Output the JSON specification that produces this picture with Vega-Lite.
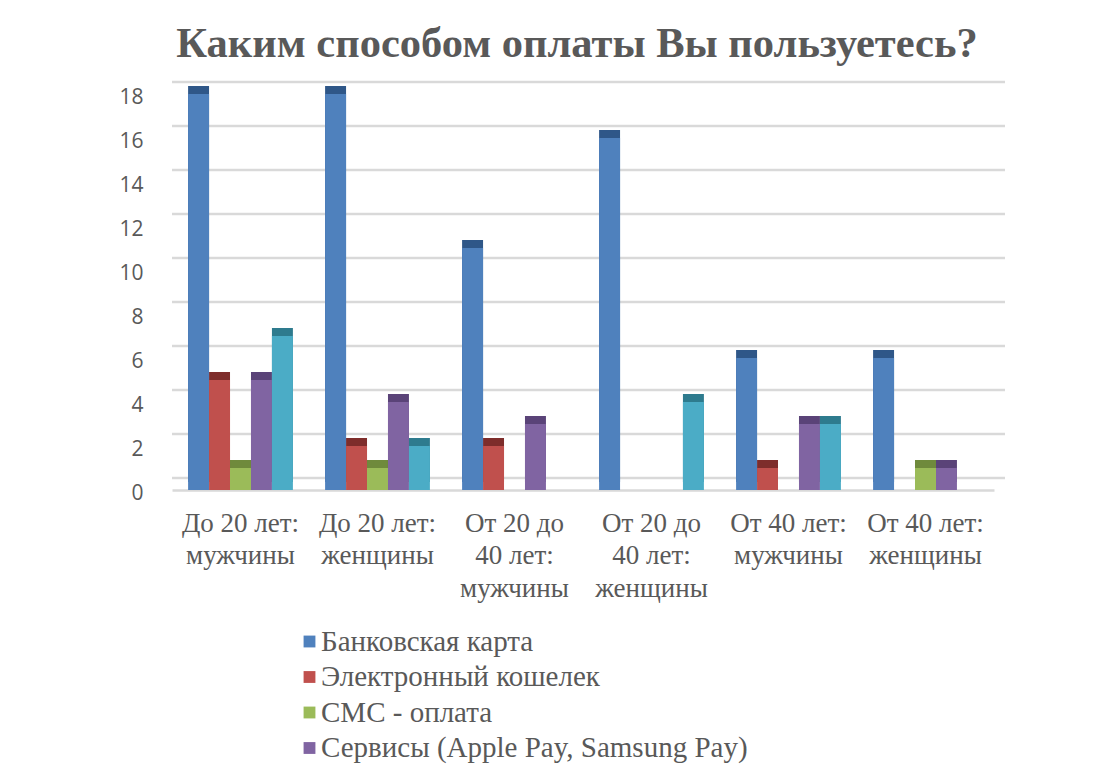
{
  "$schema": "https://vega.github.io/schema/vega-lite/v6.json",
  "width": 822,
  "height": 396,
  "autosize": {"type": "none"},
  "padding": {"left": 172, "top": 94, "right": 115, "bottom": 277},
  "background": "#ffffff",
  "title": {
    "text": "Каким способом оплаты Вы пользуетесь?",
    "font": "'Liberation Serif', 'Times New Roman', serif",
    "fontSize": 42.5,
    "fontWeight": "bold",
    "color": "#595959",
    "anchor": "middle",
    "frame": "group",
    "baseline": "alphabetic",
    "offset": -19,
    "dx": -6
  },
  "datasets": {
    "grid": [
      {"v": 0}, {"v": 2}, {"v": 4}, {"v": 6}, {"v": 8}, {"v": 10}, {"v": 12}, {"v": 14}, {"v": 16}, {"v": 18}
    ],
    "bars": [
      {"group": "До 20 лет: мужчины", "series": "Банковская карта", "value": 18},
      {"group": "До 20 лет: мужчины", "series": "Электронный кошелек", "value": 5},
      {"group": "До 20 лет: мужчины", "series": "СМС - оплата", "value": 1},
      {"group": "До 20 лет: мужчины", "series": "Сервисы (Apple Pay, Samsung Pay)", "value": 5},
      {"group": "До 20 лет: мужчины", "series": "Наличные", "value": 7},
      {"group": "До 20 лет: женщины", "series": "Банковская карта", "value": 18},
      {"group": "До 20 лет: женщины", "series": "Электронный кошелек", "value": 2},
      {"group": "До 20 лет: женщины", "series": "СМС - оплата", "value": 1},
      {"group": "До 20 лет: женщины", "series": "Сервисы (Apple Pay, Samsung Pay)", "value": 4},
      {"group": "До 20 лет: женщины", "series": "Наличные", "value": 2},
      {"group": "От 20 до 40 лет: мужчины", "series": "Банковская карта", "value": 11},
      {"group": "От 20 до 40 лет: мужчины", "series": "Электронный кошелек", "value": 2},
      {"group": "От 20 до 40 лет: мужчины", "series": "СМС - оплата", "value": 0},
      {"group": "От 20 до 40 лет: мужчины", "series": "Сервисы (Apple Pay, Samsung Pay)", "value": 3},
      {"group": "От 20 до 40 лет: мужчины", "series": "Наличные", "value": 0},
      {"group": "От 20 до 40 лет: женщины", "series": "Банковская карта", "value": 16},
      {"group": "От 20 до 40 лет: женщины", "series": "Электронный кошелек", "value": 0},
      {"group": "От 20 до 40 лет: женщины", "series": "СМС - оплата", "value": 0},
      {"group": "От 20 до 40 лет: женщины", "series": "Сервисы (Apple Pay, Samsung Pay)", "value": 0},
      {"group": "От 20 до 40 лет: женщины", "series": "Наличные", "value": 4},
      {"group": "От 40 лет: мужчины", "series": "Банковская карта", "value": 6},
      {"group": "От 40 лет: мужчины", "series": "Электронный кошелек", "value": 1},
      {"group": "От 40 лет: мужчины", "series": "СМС - оплата", "value": 0},
      {"group": "От 40 лет: мужчины", "series": "Сервисы (Apple Pay, Samsung Pay)", "value": 3},
      {"group": "От 40 лет: мужчины", "series": "Наличные", "value": 3},
      {"group": "От 40 лет: женщины", "series": "Банковская карта", "value": 6},
      {"group": "От 40 лет: женщины", "series": "Электронный кошелек", "value": 0},
      {"group": "От 40 лет: женщины", "series": "СМС - оплата", "value": 1},
      {"group": "От 40 лет: женщины", "series": "Сервисы (Apple Pay, Samsung Pay)", "value": 1},
      {"group": "От 40 лет: женщины", "series": "Наличные", "value": 0}
    ]
  },
  "config": {
    "view": {"stroke": null},
    "axis": {"grid": false, "ticks": false, "title": null},
    "axisX": {
      "domainColor": "#d9d9d9",
      "domainWidth": 2.5,
      "labelAngle": 0,
      "labelFont": "'Liberation Serif', 'Times New Roman', serif",
      "labelFontSize": 27,
      "labelColor": "#595959",
      "labelPadding": 20,
      "labelLineHeight": 32.5,
      "labelLimit": 300,
      "labelExpr": "split(replace(replace(datum.label, ': ', ':|'), 'до 40', 'до|40'), '|')"
    },
    "axisY": {
      "domain": false,
      "labelFont": "Open Sans",
      "labelFontSize": 21,
      "labelColor": "#595959",
      "labelPadding": 29,
      "labelOffset": 3
    }
  },
  "layer": [
    {
      "data": {"name": "grid"},
      "mark": {"type": "rule", "color": "#d9d9d9", "strokeWidth": 2.5, "xOffset": 11, "x2Offset": 11, "yOffset": -12},
      "encoding": {
        "y": {"field": "v", "type": "quantitative", "scale": {"domain": [0, 18], "nice": false}, "axis": {"values": [0, 2, 4, 6, 8, 10, 12, 14, 16, 18]}}
      }
    },
    {
      "data": {"name": "bars"},
      "mark": {"type": "bar", "xOffset": 8, "x2Offset": 8, "yOffset": -8, "y2Offset": -8},
      "encoding": {
        "x": {"field": "group", "type": "nominal", "sort": null, "scale": {"paddingInner": 0.235, "paddingOuter": 0.1175}},
        "xOffset": {"field": "series", "type": "nominal", "sort": ["Банковская карта", "Электронный кошелек", "СМС - оплата", "Сервисы (Apple Pay, Samsung Pay)", "Наличные"], "scale": {"paddingInner": 0}},
        "y": {"field": "value", "type": "quantitative", "scale": {"domain": [0, 18], "nice": false}, "axis": {"values": [0, 2, 4, 6, 8, 10, 12, 14, 16, 18]}},
        "color": {
          "field": "series", "type": "nominal",
          "sort": ["Банковская карта", "Электронный кошелек", "СМС - оплата", "Сервисы (Apple Pay, Samsung Pay)", "Наличные"],
          "scale": {"range": ["#2f5788", "#7e2d2b", "#6f8a3c", "#5a4378", "#2e7b8e"]},
          "legend": null
        }
      }
    },
    {
      "data": {"name": "bars"},
      "mark": {"type": "bar"},
      "encoding": {
        "x": {"field": "group", "type": "nominal", "sort": null, "scale": {"paddingInner": 0.235, "paddingOuter": 0.1175}},
        "xOffset": {"field": "series", "type": "nominal", "sort": ["Банковская карта", "Электронный кошелек", "СМС - оплата", "Сервисы (Apple Pay, Samsung Pay)", "Наличные"], "scale": {"paddingInner": 0}},
        "y": {"field": "value", "type": "quantitative", "scale": {"domain": [0, 18], "nice": false}, "axis": {"values": [0, 2, 4, 6, 8, 10, 12, 14, 16, 18]}},
        "color": {
          "field": "series", "type": "nominal",
          "sort": ["Банковская карта", "Электронный кошелек", "СМС - оплата", "Сервисы (Apple Pay, Samsung Pay)", "Наличные"],
          "scale": {"range": ["#4f81bd", "#c0504d", "#9bbb59", "#8064a2", "#4bacc6"]},
          "legend": {
            "title": null,
            "orient": "none",
            "legendX": 123,
            "legendY": 533,
            "direction": "vertical",
            "symbolType": "square",
            "symbolSize": 140,
            "symbolStrokeWidth": 0,
            "labelFont": "'Liberation Serif', 'Times New Roman', serif",
            "labelFontSize": 29,
            "labelColor": "#595959",
            "labelLimit": 700,
            "labelOffset": -3,
            "rowPadding": 5.5
          }
        }
      }
    }
  ],
  "resolve": {"scale": {"color": "independent"}}
}
